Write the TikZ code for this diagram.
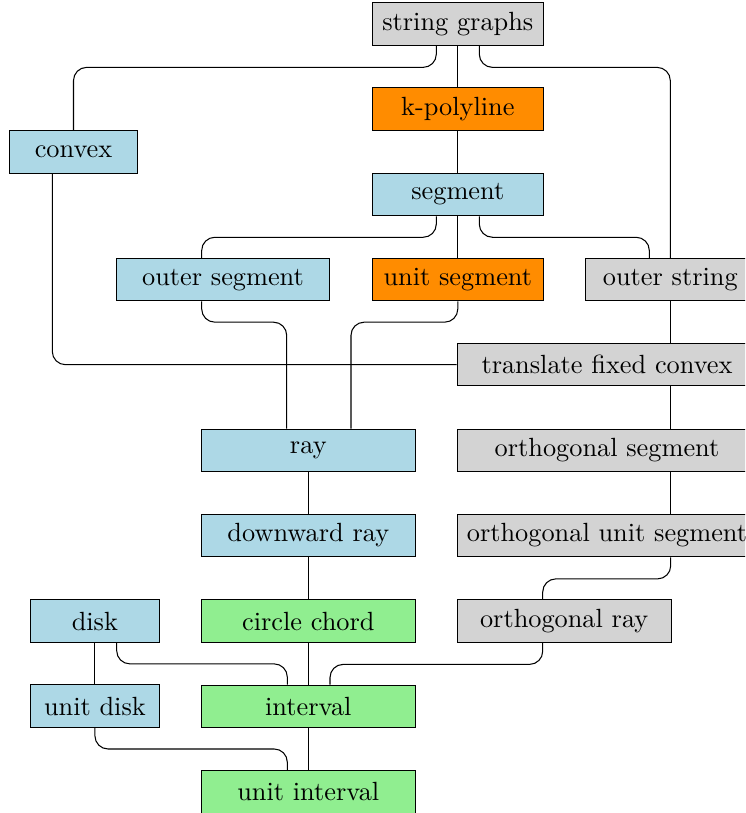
\documentclass[tikz,border=0pt]{standalone}
\usetikzlibrary{calc}
\definecolor{cgray}{RGB}{211,211,211}
\definecolor{cblue}{RGB}{173,216,230}
\definecolor{corange}{RGB}{255,140,0}
\definecolor{cgreen}{RGB}{144,238,144}
\tikzset{
  box/.style={draw=black, minimum height=16.15pt, inner sep=0pt, line width=0.4pt},
  gbox/.style={box, fill=cgray},
  bbox/.style={box, fill=cblue},
  obox/.style={box, fill=corange},
  ebox/.style={box, fill=cgreen},
  wA/.style={minimum width=65pt},
  wB/.style={minimum width=48.8pt},
  wC/.style={minimum width=81.2pt},
  wD/.style={minimum width=113.8pt},
  wE/.style={minimum width=64.2pt},
  link/.style={draw=black, line width=0.4pt, rounded corners=5pt}
}
\begin{document}
\begin{tikzpicture}[x=0.38pt, y=-0.38pt]
\useasboundingbox (0,0) rectangle (745,813);
\clip (0,0) rectangle (745,813);
% nodes
\node[gbox,wA] (sg)   at (457.8,23.9)  {string graphs};
\node[obox,wA] (kp)   at (457.8,109.1) {k-polyline};
\node[bbox,wB] (cv)   at (73.5,152)    {convex};
\node[bbox,wA] (seg)  at (457.8,194.5) {segment};
\node[bbox,wC] (os)   at (223,279.7)   {outer segment};
\node[obox,wA] (us)   at (457.8,279.7) {unit segment};
\node[gbox,wE] (ost)  at (670.3,279.7) {outer string};
\node[gbox,wD] (tfc)  at (607,364.7)   {translate fixed convex};
\node[bbox,wC] (ray)  at (308.3,450.5) {ray};
\node[gbox,wD] (os2)  at (607,450.5)   {orthogonal segment};
\node[bbox,wC] (dr)   at (308.3,535.5) {downward ray};
\node[gbox,wD] (ous)  at (607,535.5)   {orthogonal unit segment};
\node[bbox,wB] (disk) at (94.9,621.1)  {disk};
\node[ebox,wC] (cc)   at (308.3,621.1) {circle chord};
\node[gbox,wC] (or)   at (564.2,621)   {orthogonal ray};
\node[bbox,wB] (ud)   at (94.9,706.2)  {unit disk};
\node[ebox,wC] (iv)   at (308.3,706.4) {interval};
\node[ebox,wC] (ui)   at (308.3,792)   {unit interval};
% connectors
\path[link] ($(sg.south)+(-21.5,0)$) -- ++(0,21.7) -| (cv.north);
\path[link] (sg.south) -- (kp.north);
\path[link] ($(sg.south)+(21.5,0)$) -- ++(0,21.7) -| (ost.north);
\path[link] (kp.south) -- (seg.north);
\path[link] ($(seg.south)+(-21.5,0)$) -- ++(0,21) -| ($(os.north)+(-21.3,0)$);
\path[link] (seg.south) -- (us.north);
\path[link] ($(seg.south)+(21.5,0)$) -- ++(0,21) -| ($(ost.north)+(-21,0)$);
\path[link] (ost.south) -- (ost.south |- tfc.north);
\path[link] ($(cv.south)+(-21.2,0)$) |- (tfc.west);
\path[link] ($(cv.south)+(21.5,0)$) -- ($(cv.south)+(21.5,0)$ |- disk.north);
\path[link] ($(os.south)+(-21.3,0)$) -- ++(0,20.7) -| ($(ray.north)+(-21.6,0)$);
\path[link] (us.south) -- ++(0,20.7) -| ($(ray.north)+(42.7,0)$);
\path[link] ($(tfc.south)+(63.7,0)$) -- ($(os2.north)+(63.7,0)$);
\path[link] (ray.south) -- (dr.north);
\path[link] ($(os2.south)+(63.7,0)$) -- ($(ous.north)+(63.7,0)$);
\path[link] ($(ous.south)+(63.7,0)$) -- ++(0,21.6) -| ($(or.north)+(-21.5,0)$);
\path[link] (dr.south) -- (cc.north);
\path[link] (disk.south) -- (ud.north);
\path[link] (cc.south) -- (iv.north);
\path[link] ($(disk.south)+(21.8,0)$) -- ++(0,21) -| ($(iv.north)+(-21,0)$);
\path[link] ($(or.south)+(-21.5,0)$) -- ++(0,21.6) -| ($(iv.north)+(21.7,0)$);
\path[link] (iv.south) -- (ui.north);
\path[link] (ud.south) -- ++(0,21) -| ($(ui.north)+(-21,0)$);
\end{tikzpicture}
\end{document}
